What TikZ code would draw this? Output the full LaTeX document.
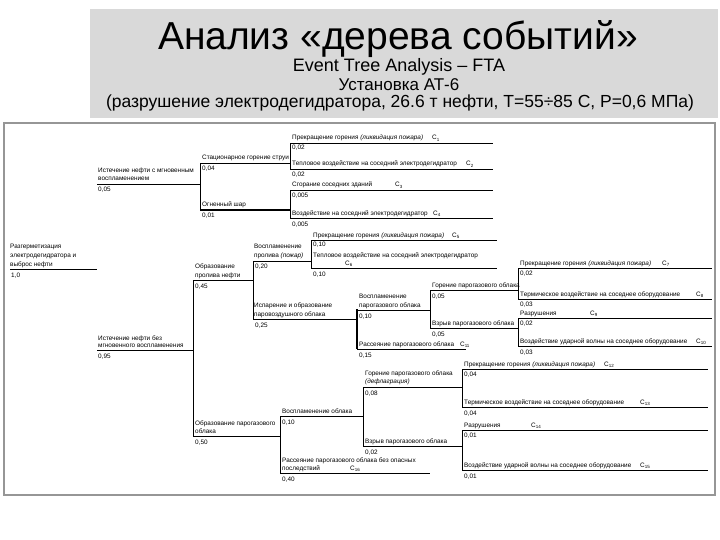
\documentclass[tikz,border=0pt]{standalone}
\usepackage{fontspec}
\setmainfont{Liberation Sans}
\begin{document}
\begin{tikzpicture}[x=1pt,y=-1pt,
  lbl/.style={font=\fontsize{6.4}{8}\selectfont, anchor=base west, inner sep=0pt},
  ln/.style={line width=0.8pt, black},
  thk/.style={line width=1.5pt, black}]
\useasboundingbox (0,0) rectangle (720,540);
\definecolor{titlegray}{RGB}{217,217,217}
\definecolor{framegray}{RGB}{150,150,150}
% title panel
\fill[titlegray] (90,9) rectangle (718,118);
\node[anchor=base, inner sep=0pt, font=\fontsize{39}{40}\selectfont] (title) at (398,50) {Анализ «дерева событий»};
\node[anchor=base, inner sep=0pt, font=\fontsize{18}{20}\selectfont] (sub1) at (399,72) {Event Tree Analysis – FTA};
\node[anchor=base, inner sep=0pt, font=\fontsize{17}{20}\selectfont] (sub2) at (399,91) {Установка АТ-6};
\node[anchor=base, inner sep=0pt, font=\fontsize{17.5}{20}\selectfont] (sub3) at (400,108) {(разрушение электродегидратора, 26.6 т нефти, Т=55÷85 С, Р=0,6 МПа)};
% frame
\draw[framegray, line width=2.5pt] (4,123) rectangle (715,495);

% root
\node[lbl] (root1) at (10,248) {Разгерметизация};
\node[lbl] (root2) at (10,257) {электродегидратора и};
\node[lbl] (root3) at (10,266) {выброс нефти};
\draw[ln] (10,269) -- (97,269);
\node[lbl] (p0) at (11,277) {1,0};

% upper branch
\node[lbl] (a1) at (98,173) {Истечение нефти с мгновенным};
\node[lbl] (a2) at (98,181) {воспламенением};
\draw[ln] (97,184) -- (200,184);
\node[lbl] (pa) at (98,192) {0,05};
\draw[ln] (200,163) -- (200,210);
\node[lbl] (b1) at (202,160) {Стационарное горение струи};
\draw[ln] (200,163) -- (290,163);
\node[lbl] (pb1) at (202,171) {0,04};
\node[lbl] (b2) at (202,207) {Огненный шар};
\draw[thk] (200,210) -- (290,210);
\node[lbl] (pb2) at (202,218) {0,01};

\draw[ln] (290,143) -- (290,169);
\node[lbl] (c1) at (292,140) {Прекращение горения \textit{(ликвидация пожара)}};
\node[lbl] (c1s) at (432,140) {C\textsubscript{1}};
\draw[ln] (290,143) -- (493,143);
\node[lbl] (pc1) at (292,150) {0,02};
\node[lbl] (c2) at (292,166) {Тепловое воздействие на соседний электродегидратор};
\node[lbl] (c2s) at (466,166) {C\textsubscript{2}};
\draw[ln] (290,169) -- (493,169);
\node[lbl] (pc2) at (292,177) {0,02};

\draw[ln] (290,190) -- (290,218);
\node[lbl] (c3) at (292,187) {Сгорание соседних зданий};
\node[lbl] (c3s) at (395,187) {C\textsubscript{3}};
\draw[ln] (290,190) -- (493,190);
\node[lbl] (pc3) at (292,197) {0,005};
\node[lbl] (c4) at (292,215) {Воздействие на соседний электродегидратор};
\node[lbl] (c4s) at (433,215) {C\textsubscript{4}};
\draw[ln] (290,218) -- (493,218);
\node[lbl] (pc4) at (292,226) {0,005};

% lower branch
\node[lbl] (d1) at (98,340) {Истечение нефти без};
\node[lbl] (d2) at (98,347) {мгновенного воспламенения};
\draw[ln] (97,350) -- (193,350);
\node[lbl] (pd) at (98,358) {0,95};
\draw[ln] (193,280) -- (193,436);

% pool
\node[lbl] (e1) at (195,268) {Образование};
\node[lbl] (e2) at (195,277) {пролива нефти};
\draw[ln] (193,280) -- (253,280);
\node[lbl] (pe) at (195,288) {0,45};
\draw[ln] (253,261) -- (253,319);
\node[lbl] (f1) at (254,248) {Воспламенение};
\node[lbl] (f2) at (254,257) {пролива \textit{(пожар)}};
\draw[ln] (253,261) -- (311,261);
\node[lbl] (pf1) at (255,268) {0,20};
\draw[ln] (311,240) -- (311,268);
\node[lbl] (g1) at (313,237) {Прекращение горения \textit{(ликвидация пожара)}};
\node[lbl] (g1s) at (452,237) {C\textsubscript{5}};
\draw[ln] (311,240) -- (497,240);
\node[lbl] (pg1) at (313,247) {0,10};
\node[lbl] (g2) at (313,257) {Тепловое воздействие на соседний электродегидратор};
\node[lbl] (g2s) at (345,265) {C\textsubscript{6}};
\draw[ln] (311,268) -- (497,268);
\node[lbl] (pg2) at (313,276) {0,10};

\node[lbl] (f3) at (254,307) {Испарение и образование};
\node[lbl] (f4) at (254,316) {паровоздушного облака};
\draw[ln] (253,319) -- (357,319);
\node[lbl] (pf2) at (255,327) {0,25};
\draw[thk] (357,309) -- (357,349);
\node[lbl] (h1) at (359,298) {Воспламенение};
\node[lbl] (h2) at (359,307) {парогазового облака};
\draw[ln] (357,310) -- (430,310);
\node[lbl] (ph1) at (359,318) {0,10};
\node[lbl] (h3) at (359,346) {Рассеяние парогазового облака};
\node[lbl] (h3s) at (460,346) {C\textsubscript{11}};
\draw[ln] (357,349) -- (466,349);
\node[lbl] (ph3) at (359,357) {0,15};

\draw[ln] (430,290) -- (430,328);
\node[lbl] (i1) at (432,287) {Горение парогазового облака};
\draw[ln] (430,290) -- (518,290);
\node[lbl] (pi1) at (432,298) {0,05};
\node[lbl] (i2) at (432,325) {Взрыв парогазового облака};
\draw[ln] (430,328) -- (518,328);
\node[lbl] (pi2) at (432,336) {0,05};

\draw[ln] (518,268) -- (518,299);
\node[lbl] (j1) at (520,265) {Прекращение горения \textit{(ликвидация пожара)}};
\node[lbl] (j1s) at (662,265) {C\textsubscript{7}};
\draw[ln] (518,268) -- (712,268);
\node[lbl] (pj1) at (520,275) {0,02};
\node[lbl] (j2) at (520,296) {Термическое воздействие на соседнее оборудование};
\node[lbl] (j2s) at (696,296) {C\textsubscript{8}};
\draw[ln] (518,299) -- (712,299);
\node[lbl] (pj2) at (520,306) {0,03};
\draw[ln] (518,318) -- (518,346);
\node[lbl] (j3) at (520,315) {Разрушения};
\node[lbl] (j3s) at (590,315) {C\textsubscript{9}};
\draw[ln] (518,318) -- (712,318);
\node[lbl] (pj3) at (520,325) {0,02};
\node[lbl] (j4) at (520,343) {Воздействие ударной волны на соседнее оборудование};
\node[lbl] (j4s) at (696,343) {C\textsubscript{10}};
\draw[ln] (518,346) -- (712,346);
\node[lbl] (pj4) at (520,354) {0,03};

% cloud
\node[lbl] (k1) at (195,425) {Образование парогазового};
\node[lbl] (k2) at (195,433) {облака};
\draw[ln] (193,436) -- (280,436);
\node[lbl] (pk) at (195,444) {0,50};
\draw[ln] (280,416) -- (280,473);
\node[lbl] (l1) at (282,413) {Воспламенение облака};
\draw[ln] (280,416) -- (363,416);
\node[lbl] (pl1) at (282,424) {0,10};
\node[lbl] (l2) at (282,462) {Рассеяние парогазового облака без опасных};
\node[lbl] (l3) at (282,470) {последствий};
\node[lbl] (l3s) at (350,470) {C\textsubscript{16}};
\draw[ln] (280,473) -- (430,473);
\node[lbl] (pl2) at (282,481) {0,40};

\draw[ln] (363,387) -- (363,446);
\node[lbl] (m1) at (365,375) {Горение парогазового облака};
\node[lbl] (m2) at (365,383) {\textit{(дефлаграция)}};
\draw[ln] (363,387) -- (462,387);
\node[lbl] (pm1) at (365,395) {0,08};
\node[lbl] (m3) at (365,443) {Взрыв парогазового облака};
\draw[ln] (363,446) -- (462,446);
\node[lbl] (pm2) at (365,454) {0,02};

\draw[ln] (462,369) -- (462,407);
\node[lbl] (n1) at (464,366) {Прекращение горения \textit{(ликвидация пожара)}};
\node[lbl] (n1s) at (604,366) {C\textsubscript{12}};
\draw[ln] (462,369) -- (708,369);
\node[lbl] (pn1) at (464,376) {0,04};
\node[lbl] (n2) at (464,404) {Термическое воздействие на соседнее оборудование};
\node[lbl] (n2s) at (640,404) {C\textsubscript{13}};
\draw[ln] (462,407) -- (708,407);
\node[lbl] (pn2) at (464,415) {0,04};
\draw[ln] (462,430) -- (462,470);
\node[lbl] (n3) at (464,427) {Разрушения};
\node[lbl] (n3s) at (531,427) {C\textsubscript{14}};
\draw[ln] (462,430) -- (708,430);
\node[lbl] (pn3) at (464,437) {0,01};
\node[lbl] (n4) at (464,467) {Воздействие ударной волны на соседнее оборудование};
\node[lbl] (n4s) at (640,467) {C\textsubscript{15}};
\draw[ln] (462,470) -- (708,470);
\node[lbl] (pn4) at (464,478) {0,01};
\end{tikzpicture}
\end{document}
